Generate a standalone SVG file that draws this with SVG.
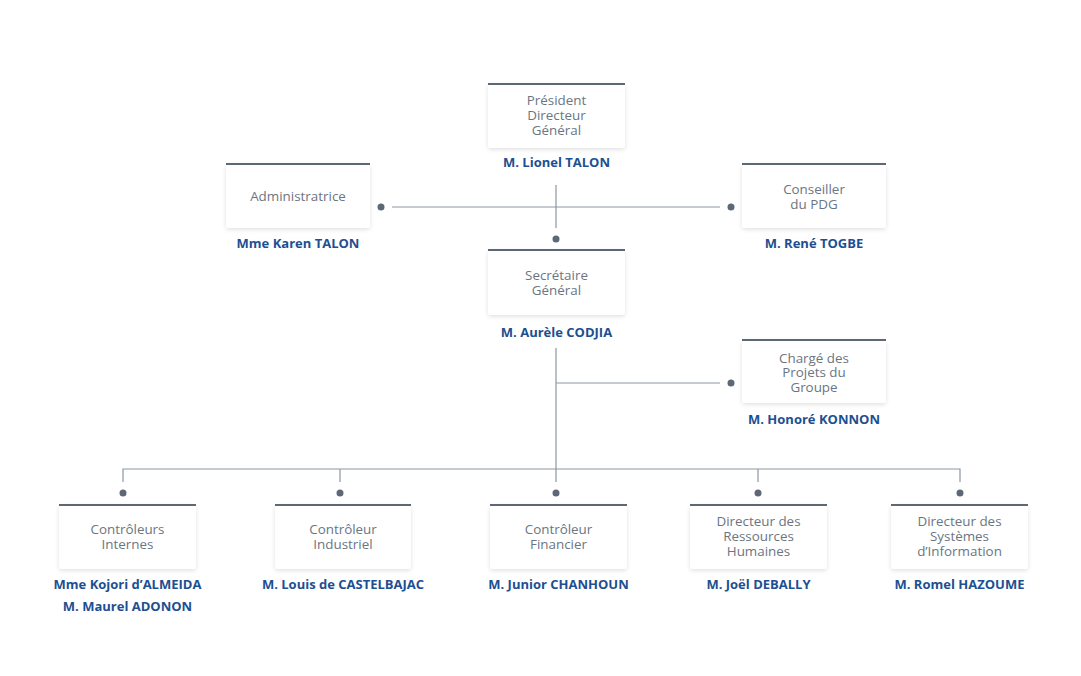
<svg xmlns="http://www.w3.org/2000/svg" width="1081" height="676" viewBox="0 0 1081 676">
<style>
.box{fill:#ffffff;filter:url(#sh)}
.top{stroke:#5d6877;stroke-width:2}
.t{font-family:"Open Sans","Liberation Sans",sans-serif;font-size:13.4px;fill:#6b7582;text-anchor:middle}
.n{font-family:"Open Sans","Liberation Sans",sans-serif;font-size:13px;font-weight:700;fill:#1d4f91;text-anchor:middle}
.ln{stroke:#8d97a3;stroke-width:1.2;fill:none}
.dot{fill:#5d6877}
</style>
<defs>
<filter id="sh" x="-10%" y="-10%" width="120%" height="130%">
<feDropShadow dx="0" dy="1.5" stdDeviation="2" flood-color="#000" flood-opacity="0.12"/>
</filter>
</defs>
<rect width="1081" height="676" fill="#ffffff"/>
<g id="connectors">
<path class="ln" d="M556 185V228M392 207H720M556 348V469M556 383H720M123 482V469H960V482M340 469V482M556 469V482M758 469V482"/>
<circle class="dot" cx="381" cy="207" r="3.5"/>
<circle class="dot" cx="731" cy="207" r="3.5"/>
<circle class="dot" cx="556" cy="239" r="3.5"/>
<circle class="dot" cx="731" cy="383" r="3.5"/>
<circle class="dot" cx="123" cy="493" r="3.5"/>
<circle class="dot" cx="340" cy="493" r="3.5"/>
<circle class="dot" cx="556" cy="493" r="3.5"/>
<circle class="dot" cx="758" cy="493" r="3.5"/>
<circle class="dot" cx="960" cy="493" r="3.5"/>
</g>
<g id="pdg">
<rect class="box" x="488" y="84" width="137" height="64" rx="3"/>
<line class="top" x1="488" y1="84" x2="625" y2="84"/>
<text class="t" x="556.5" y="104.5">Président</text>
<text class="t" x="556.5" y="119.5">Directeur</text>
<text class="t" x="556.5" y="134.5">Général</text>
<text class="n" x="556.5" y="167">M. Lionel TALON</text>
</g>
<g id="admin">
<rect class="box" x="226" y="164" width="144" height="64" rx="3"/>
<line class="top" x1="226" y1="164" x2="370" y2="164"/>
<text class="t" x="298" y="200.5">Administratrice</text>
<text class="n" x="298" y="248">Mme Karen TALON</text>
</g>
<g id="conseiller">
<rect class="box" x="742" y="164" width="144" height="64" rx="3"/>
<line class="top" x1="742" y1="164" x2="886" y2="164"/>
<text class="t" x="814" y="193.5">Conseiller</text>
<text class="t" x="814" y="208.5">du PDG</text>
<text class="n" x="814" y="248">M. René TOGBE</text>
</g>
<g id="sg">
<rect class="box" x="488" y="250" width="137" height="65" rx="3"/>
<line class="top" x1="488" y1="250" x2="625" y2="250"/>
<text class="t" x="556.5" y="279.5">Secrétaire</text>
<text class="t" x="556.5" y="294.5">Général</text>
<text class="n" x="556.5" y="337">M. Aurèle CODJIA</text>
</g>
<g id="charge">
<rect class="box" x="742" y="340" width="144" height="63" rx="3"/>
<line class="top" x1="742" y1="340" x2="886" y2="340"/>
<text class="t" x="814" y="362.5">Chargé des</text>
<text class="t" x="814" y="376.5">Projets du</text>
<text class="t" x="814" y="391.5">Groupe</text>
<text class="n" x="814" y="424">M. Honoré KONNON</text>
</g>
<g id="ci">
<rect class="box" x="59" y="505" width="137" height="64" rx="3"/>
<line class="top" x1="59" y1="505" x2="196" y2="505"/>
<text class="t" x="127.5" y="533.5">Contrôleurs</text>
<text class="t" x="127.5" y="548.5">Internes</text>
<text class="n" x="127.5" y="589">Mme Kojori d’ALMEIDA</text>
<text class="n" x="127.5" y="611">M. Maurel ADONON</text>
</g>
<g id="cind">
<rect class="box" x="275" y="505" width="136" height="64" rx="3"/>
<line class="top" x1="275" y1="505" x2="411" y2="505"/>
<text class="t" x="343" y="533.5">Contrôleur</text>
<text class="t" x="343" y="548.5">Industriel</text>
<text class="n" x="343" y="589">M. Louis de CASTELBAJAC</text>
</g>
<g id="cf">
<rect class="box" x="490" y="505" width="137" height="64" rx="3"/>
<line class="top" x1="490" y1="505" x2="627" y2="505"/>
<text class="t" x="558.5" y="533.5">Contrôleur</text>
<text class="t" x="558.5" y="548.5">Financier</text>
<text class="n" x="558.5" y="589">M. Junior CHANHOUN</text>
</g>
<g id="drh">
<rect class="box" x="690" y="505" width="137" height="64" rx="3"/>
<line class="top" x1="690" y1="505" x2="827" y2="505"/>
<text class="t" x="758.5" y="525.5">Directeur des</text>
<text class="t" x="758.5" y="540.5">Ressources</text>
<text class="t" x="758.5" y="555.5">Humaines</text>
<text class="n" x="758.5" y="589">M. Joël DEBALLY</text>
</g>
<g id="dsi">
<rect class="box" x="891" y="505" width="137" height="64" rx="3"/>
<line class="top" x1="891" y1="505" x2="1028" y2="505"/>
<text class="t" x="959.5" y="525.5">Directeur des</text>
<text class="t" x="959.5" y="540.5">Systèmes</text>
<text class="t" x="959.5" y="555.5">d’Information</text>
<text class="n" x="959.5" y="589">M. Romel HAZOUME</text>
</g>
</svg>
